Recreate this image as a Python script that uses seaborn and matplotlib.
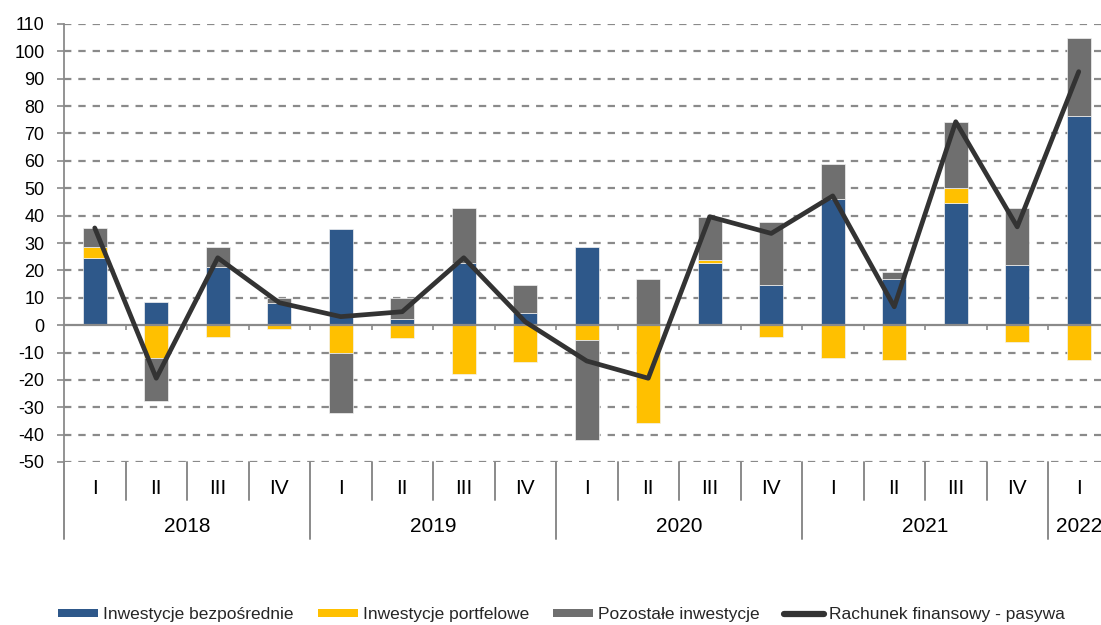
import numpy as np
import pandas as pd
import matplotlib
matplotlib.use("Agg")
import matplotlib.pyplot as plt
import matplotlib.transforms as mtransforms
from matplotlib.patches import Patch
from matplotlib.lines import Line2D
import seaborn as sns

# ---------------- data ----------------
quarters = ["I", "II", "III", "IV", "I", "II", "III", "IV", "I", "II", "III", "IV",
            "I", "II", "III", "IV", "I"]
years = ["2018", "2019", "2020", "2021", "2022"]
year_sizes = [4, 4, 4, 4, 1]

direct = [24.6, 8.3, 21.3, 8.0, 35.1, 2.2, 22.6, 4.3, 28.6, 0.0, 22.8, 14.6,
          46.1, 16.7, 44.7, 22.0, 76.3]
portfolio = [4.0, -11.9, -4.2, -1.5, -10.3, -4.8, -18.0, -13.4, -5.4, -35.9, 1.1, -4.2,
             -11.9, -12.7, 5.5, -6.3, -12.7]
other = [6.8, -15.8, 7.3, 1.8, -21.9, 7.8, 20.1, 10.3, -36.6, 16.7, 15.7, 23.2,
         12.7, 2.6, 24.1, 20.7, 28.5]
liabilities = [35.5, -19.4, 24.6, 8.2, 3.1, 4.9, 24.6, 1.2, -13.1, -19.4, 39.6, 33.5,
               47.2, 6.7, 74.3, 35.9, 92.6]

series_names = ["Inwestycje bezpośrednie", "Inwestycje portfelowe", "Pozostałe inwestycje"]
line_name = "Rachunek finansowy - pasywa"
colors = ["#2E588A", "#FFC000", "#6F6F6F"]
line_color = "#333333"
grid_color = "#8A8A8A"

# ---------------- style ----------------
sns.set_theme(style="white")
plt.rcParams["font.family"] = ["Liberation Sans", "DejaVu Sans"]
plt.rcParams["lines.scale_dashes"] = False
plt.rcParams["axes.unicode_minus"] = False

fig = plt.figure(figsize=(11.01, 6.25), dpi=100)
W, H = 1101, 625
left_px, top_px, bot_px = 64, 24, 462
cat_w = 61.5
n = len(quarters)
ax = fig.add_axes([left_px / W, 1 - bot_px / H, n * cat_w / W, (bot_px - top_px) / H])

x = np.arange(n)
pos_base = np.zeros(n)
neg_base = np.zeros(n)
for vals, col in zip([direct, portfolio, other], colors):
    v = np.array(vals, dtype=float)
    bottoms = np.where(v >= 0, pos_base, neg_base)
    ax.bar(x, v, width=0.39, bottom=bottoms, color=col, edgecolor="#f2f2f2",
           linewidth=0.5, zorder=2)
    pos_base = pos_base + np.clip(v, 0, None)
    neg_base = neg_base + np.clip(v, None, 0)

df_line = pd.DataFrame({"x": x, "y": liabilities})
sns.lineplot(data=df_line, x="x", y="y", ax=ax, color=line_color, linewidth=3.4,
             zorder=4, sort=False)

ax.set_xlim(-0.5, n - 0.5)
ax.set_ylim(-50, 110)
ax.set_yticks(np.arange(-50, 111, 10))
ax.set_ylabel("")
ax.set_xlabel("")

# gridlines (dashed) except zero
for yv in np.arange(-50, 111, 10):
    if yv == 0:
        continue
    ax.axhline(yv, color=grid_color, linewidth=1.6, linestyle=(0, (5.3, 5.0)), zorder=0)

for s in ["top", "right"]:
    ax.spines[s].set_visible(False)
ax.spines["left"].set_color(grid_color)
ax.spines["left"].set_linewidth(1.3)
ax.spines["bottom"].set_position(("data", 0))
ax.spines["bottom"].set_color(grid_color)
ax.spines["bottom"].set_linewidth(1.6)
ax.spines["bottom"].set_zorder(3)

ax.set_xticks(np.arange(n - 1) + 0.5)
ax.set_xticklabels([])
ax.tick_params(axis="x", direction="out", length=3.6, width=1.2, color=grid_color, bottom=True)
ax.tick_params(axis="y", direction="out", length=5, width=1.2, color=grid_color, pad=9,
               labelsize=13, labelcolor="#000000", left=True)

# ---------------- multi-level category axis ----------------
trans = mtransforms.blended_transform_factory(ax.transData, ax.transAxes)
ax_h = bot_px - top_px
y_q = (bot_px - 488) / ax_h
y_y = (bot_px - 526) / ax_h
y_inner = (bot_px - 500) / ax_h
y_group = (bot_px - 539) / ax_h

for i, q in enumerate(quarters):
    ax.text(i, y_q, q, transform=trans, ha="center", va="center", fontsize=15,
            color="#000000", clip_on=False)

group_edges = list(np.cumsum([0] + year_sizes) - 0.5)
for b in np.arange(n + 1) - 0.5:
    if b in group_edges:
        ax.plot([b, b], [0, y_group], transform=trans, color=grid_color, lw=1.4,
                clip_on=False, zorder=1)
    else:
        ax.plot([b, b], [0, y_inner], transform=trans, color=grid_color, lw=1.4,
                clip_on=False, zorder=1)

start = 0
for yr, sz in zip(years, year_sizes):
    cx = start + (sz - 1) / 2
    ax.text(cx, y_y, yr, transform=trans, ha="center", va="center", fontsize=15,
            color="#000000", clip_on=False)
    start += sz

# ---------------- legend ----------------
handles = [Patch(facecolor=c, edgecolor="none") for c in colors]
handles.append(Line2D([0], [0], color=line_color, linewidth=4.5, solid_capstyle="round"))
labels = series_names + [line_name]
fig.legend(handles, labels, loc="center", bbox_to_anchor=(0.51, 0.017), ncol=4,
           frameon=False, fontsize=12.5, handlelength=2.3, handleheight=0.35,
           handletextpad=0.3, columnspacing=1.4, borderaxespad=0)

fig.savefig("out.png", dpi=100)
